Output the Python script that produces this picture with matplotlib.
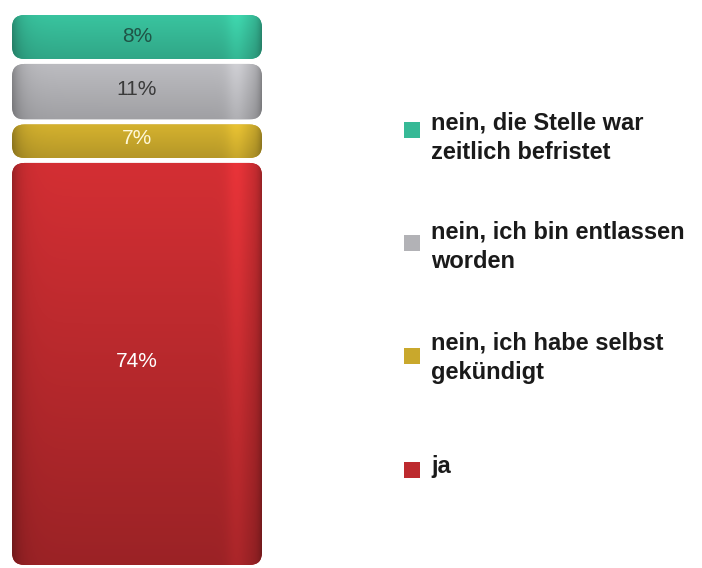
import matplotlib
matplotlib.use("Agg")
import matplotlib.pyplot as plt
import numpy as np
from matplotlib.patches import FancyBboxPatch, Rectangle
from matplotlib.colors import to_rgb

# data, bottom to top
categories = ["ja",
              "nein, ich habe selbst\ngekündigt",
              "nein, ich bin entlassen\nworden",
              "nein, die Stelle war\nzeitlich befristet"]
values = [74, 7, 11, 8]
value_labels = ["74%", "7%", "11%", "8%"]
colors = ["#bd2a2e", "#c9a82c", "#b2b2b6", "#36b996"]
label_colors = ["#ffffff", "#fff8d8", "#3a3a3a", "#1f5446"]

plt.rcParams['font.family'] = ['Liberation Sans', 'DejaVu Sans']

W, H = 702, 568
fig = plt.figure(figsize=(W / 100, H / 100), dpi=100)
fig.patch.set_facecolor("white")

# bar axes: x 12..262 px, y 15..565 px
ax = fig.add_axes([12 / W, 3 / H, 250 / W, 550 / H])
ax.set_xlim(0, 1)
ax.set_ylim(0, 100)
ax.axis("off")

gap = 0.9
aspect = (250 / 1) / (550 / 100)
xs = np.linspace(0, 1, 300)
shade = (1 - 0.28 * np.exp(-xs / 0.035)
         + 0.10 * np.exp(-((xs - 0.9) / 0.04) ** 2)
         - 0.28 * np.exp(-(1 - xs) / 0.02))

bottoms = np.concatenate([[0], np.cumsum(values)[:-1]])
for i, (v, b) in enumerate(zip(values, bottoms)):
    top = b + v - (gap if i < len(values) - 1 else 0)
    patch = FancyBboxPatch((0, b), 1, top - b,
                           boxstyle="round,pad=0,rounding_size=0.05",
                           mutation_aspect=aspect,
                           facecolor=colors[i], edgecolor="none", zorder=1)
    ax.add_patch(patch)
    base = np.array(to_rgb(colors[i]))
    n_y = 100
    if i == 0:
        vert = np.linspace(0.82, 1.12, n_y)[:, None]
    else:
        vert = np.linspace(0.90, 1.06, n_y)[:, None]
    fac = vert * shade[None, :]
    img = np.clip(base[None, None, :] * fac[:, :, None], 0, 1)
    im = ax.imshow(img, extent=(0, 1, b, top), origin="lower",
                   aspect="auto", interpolation="bilinear", zorder=2)
    im.set_clip_path(patch)
    ax.text(0.5, b + v / 2, value_labels[i], ha="center", va="center",
            fontsize=15, color=label_colors[i], zorder=3)

# legend, top to bottom
marker_y = [130, 243, 356, 470]
text_y = [138, 247, 358, 466]
for j, i in enumerate(range(len(categories) - 1, -1, -1)):
    my = marker_y[j]
    fig.patches.append(Rectangle((404 / W, 1 - (my + 8) / H), 16 / W, 16 / H,
                                 transform=fig.transFigure, figure=fig,
                                 facecolor=colors[i], edgecolor="none"))
    fig.text(431 / W, 1 - text_y[j] / H, categories[i], ha="left", va="center",
             fontsize=17, fontweight="bold", color="#1a1a1a", linespacing=1.35)

fig.savefig("out.png", dpi=100)
